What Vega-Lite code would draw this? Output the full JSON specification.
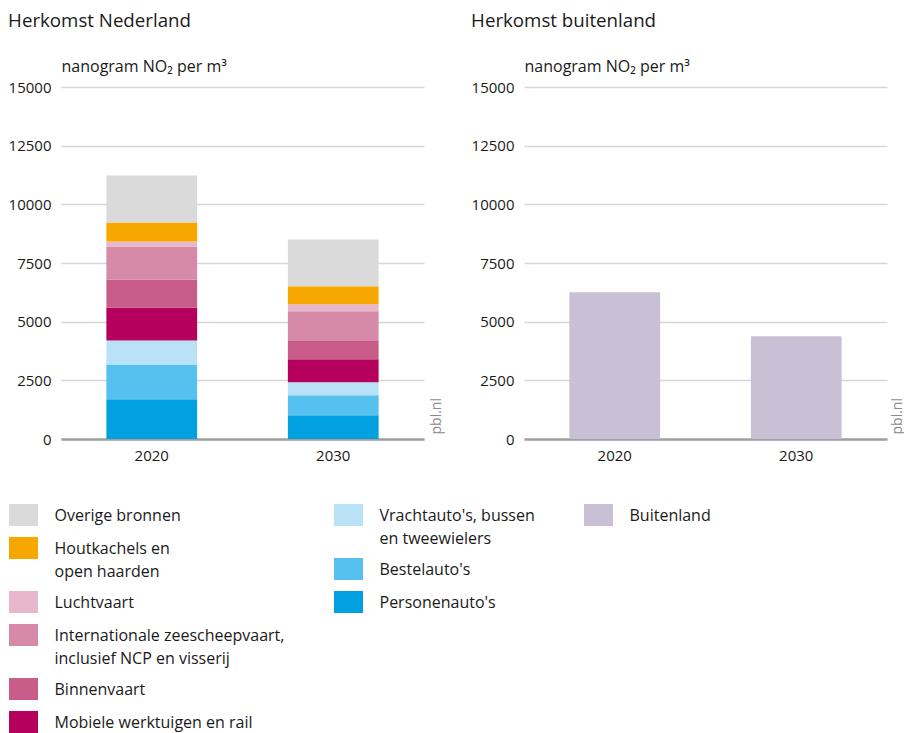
{
  "$schema": "https://vega.github.io/schema/vega-lite/v6.json",
  "padding": {"left": 8, "top": 12, "right": 0, "bottom": 0},
  "background": "white",
  "config": {
    "font": "Open Sans",
    "view": {"stroke": null},
    "title": {"fontSize": 18.7, "fontWeight": "normal", "anchor": "start", "frame": "bounds", "color": "#1a1a1a", "offset": 27},
    "axisY": {"grid": true, "gridColor": "#d6d6d6", "gridWidth": 1.5, "domain": false, "ticks": false, "labelFontSize": 15, "labelPadding": 10, "labelColor": "#1a1a1a"},
    "axisX": {"domainColor": "#9f9f9f", "domainWidth": 2.3, "ticks": false, "labelFontSize": 15, "labelPadding": 9, "labelAngle": 0, "labelColor": "#1a1a1a", "title": null, "grid": false},
    "legend": {"labelFontSize": 16, "labelColor": "#1a1a1a", "symbolType": "M-1.318,-1H1.318V1H-1.318Z", "symbolSize": 484, "symbolOffset": 3.5, "symbolStrokeWidth": 0, "symbolOpacity": 1, "orient": "none", "padding": 0, "rowPadding": 11, "labelOffset": 20, "title": null, "labelLimit": 400}
  },
  "datasets": {
    "nl": [
      {"jaar": "2020", "bron": "Personenauto's", "waarde": 1690},
      {"jaar": "2020", "bron": "Bestelauto's", "waarde": 1490},
      {"jaar": "2020", "bron": "Vrachtauto's, bussen en tweewielers", "waarde": 1020},
      {"jaar": "2020", "bron": "Mobiele werktuigen en rail", "waarde": 1405},
      {"jaar": "2020", "bron": "Binnenvaart", "waarde": 1195},
      {"jaar": "2020", "bron": "Internationale zeescheepvaart, inclusief NCP en visserij", "waarde": 1405},
      {"jaar": "2020", "bron": "Luchtvaart", "waarde": 215},
      {"jaar": "2020", "bron": "Houtkachels en open haarden", "waarde": 810},
      {"jaar": "2020", "bron": "Overige bronnen", "waarde": 2000},
      {"jaar": "2030", "bron": "Personenauto's", "waarde": 1010},
      {"jaar": "2030", "bron": "Bestelauto's", "waarde": 850},
      {"jaar": "2030", "bron": "Vrachtauto's, bussen en tweewielers", "waarde": 555},
      {"jaar": "2030", "bron": "Mobiele werktuigen en rail", "waarde": 980},
      {"jaar": "2030", "bron": "Binnenvaart", "waarde": 810},
      {"jaar": "2030", "bron": "Internationale zeescheepvaart, inclusief NCP en visserij", "waarde": 1235},
      {"jaar": "2030", "bron": "Luchtvaart", "waarde": 300},
      {"jaar": "2030", "bron": "Houtkachels en open haarden", "waarde": 765},
      {"jaar": "2030", "bron": "Overige bronnen", "waarde": 2000}
    ],
    "bl": [
      {"jaar": "2020", "bron": "Buitenland", "waarde": 6250},
      {"jaar": "2030", "bron": "Buitenland", "waarde": 4375}
    ]
  },
  "hconcat": [
    {
      "title": "Herkomst Nederland",
      "width": 363,
      "height": 352,
      "data": {"name": "nl"},
      "transform": [
        {"calculate": "indexof([\"Personenauto's\", \"Bestelauto's\", \"Vrachtauto's, bussen en tweewielers\", \"Mobiele werktuigen en rail\", \"Binnenvaart\", \"Internationale zeescheepvaart, inclusief NCP en visserij\", \"Luchtvaart\", \"Houtkachels en open haarden\", \"Overige bronnen\"], datum.bron)", "as": "volgorde"},
        {"stack": "waarde", "groupby": ["jaar"], "sort": [{"field": "volgorde", "order": "ascending"}], "as": ["v0", "v1"]}
      ],
      "encoding": {
        "x": {"field": "jaar", "type": "nominal", "scale": {"paddingInner": 0.5, "paddingOuter": 0.25}}
      },
      "layer": [
        {
          "transform": [{"filter": {"field": "bron", "oneOf": ["Personenauto's", "Bestelauto's", "Vrachtauto's, bussen en tweewielers"]}}],
          "mark": {"type": "bar"},
          "encoding": {
            "y": {"field": "v1", "type": "quantitative", "scale": {"domain": [0, 15000], "nice": false}, "axis": {"values": [0, 2500, 5000, 7500, 10000, 12500, 15000], "format": "d", "title": "nanogram NO₂ per m³", "titleAngle": 0, "titleAlign": "left", "titleX": 0, "titleY": -16, "titleBaseline": "alphabetic", "titleFontSize": 16, "titleFontWeight": "normal", "titleColor": "#1a1a1a"}},
            "y2": {"field": "v0"},
            "color": {"field": "bron", "type": "nominal", "scale": {"domain": ["Vrachtauto's, bussen en tweewielers", "Bestelauto's", "Personenauto's"], "range": ["#b9e2f7", "#56c1ee", "#00a0e1"]}, "legend": {"legendX": 273, "legendY": 417, "labelExpr": "datum.label == \"Vrachtauto's, bussen en tweewielers\" ? [\"Vrachtauto's, bussen\", \"en tweewielers\"] : datum.label", "labelBaseline": "top", "encode": {"labels": {"update": {"lineHeight": {"value": 23}, "dy": {"value": -7}}}}}}
          }
        },
        {
          "transform": [{"filter": {"field": "bron", "oneOf": ["Mobiele werktuigen en rail", "Binnenvaart", "Internationale zeescheepvaart, inclusief NCP en visserij", "Luchtvaart", "Houtkachels en open haarden", "Overige bronnen"]}}],
          "mark": {"type": "bar"},
          "encoding": {
            "y": {"field": "v1", "type": "quantitative", "scale": {"domain": [0, 15000], "nice": false}, "axis": {"orient": "right", "grid": false, "labels": false, "title": "pbl.nl", "titleAngle": 270, "titleX": 12, "titleY": 347, "titleAlign": "left", "titleBaseline": "middle", "titleFontSize": 14, "titleFontWeight": "normal", "titleColor": "#8c8c8c"}},
            "y2": {"field": "v0"},
            "fill": {"field": "bron", "type": "nominal", "scale": {"domain": ["Overige bronnen", "Houtkachels en open haarden", "Luchtvaart", "Internationale zeescheepvaart, inclusief NCP en visserij", "Binnenvaart", "Mobiele werktuigen en rail"], "range": ["#d9dad9", "#f7a800", "#e7b8cc", "#d68aa8", "#c85d8a", "#b5005e"]}, "legend": {"legendX": -52, "legendY": 417, "labelExpr": "datum.label == 'Houtkachels en open haarden' ? ['Houtkachels en', 'open haarden'] : datum.label == 'Internationale zeescheepvaart, inclusief NCP en visserij' ? ['Internationale zeescheepvaart,', 'inclusief NCP en visserij'] : datum.label", "labelBaseline": "top", "encode": {"labels": {"update": {"lineHeight": {"value": 23}, "dy": {"value": -7}}}}}}
          }
        }
      ],
      "resolve": {"axis": {"y": "independent"}}
    },
    {
      "title": "Herkomst buitenland",
      "width": 363,
      "height": 352,
      "data": {"name": "bl"},
      "encoding": {
        "x": {"field": "jaar", "type": "nominal", "scale": {"paddingInner": 0.5, "paddingOuter": 0.25}}
      },
      "layer": [
        {
          "mark": {"type": "bar"},
          "encoding": {
            "y": {"field": "waarde", "type": "quantitative", "scale": {"domain": [0, 15000], "nice": false}, "axis": {"values": [0, 2500, 5000, 7500, 10000, 12500, 15000], "format": "d", "title": "nanogram NO₂ per m³", "titleAngle": 0, "titleAlign": "left", "titleX": 0, "titleY": -16, "titleBaseline": "alphabetic", "titleFontSize": 16, "titleFontWeight": "normal", "titleColor": "#1a1a1a"}},
            "color": {"field": "bron", "type": "nominal", "scale": {"domain": ["Buitenland"], "range": ["#c9c0d6"]}, "legend": {"legendX": 60, "legendY": 417, "labelBaseline": "top", "encode": {"labels": {"update": {"dy": {"value": -7}}}}}}
          }
        },
        {
          "mark": {"type": "rule", "opacity": 0},
          "encoding": {
            "y": {"field": "waarde", "type": "quantitative", "scale": {"domain": [0, 15000], "nice": false}, "axis": {"orient": "right", "grid": false, "labels": false, "title": "pbl.nl", "titleAngle": 270, "titleX": 10, "titleY": 347, "titleAlign": "left", "titleBaseline": "middle", "titleFontSize": 14, "titleFontWeight": "normal", "titleColor": "#8c8c8c"}}
          }
        }
      ],
      "resolve": {"axis": {"y": "independent"}}
    }
  ],
  "bounds": "flush",
  "spacing": 100,
  "resolve": {"scale": {"color": "independent", "fill": "independent", "y": "independent"}, "legend": {"color": "independent", "fill": "independent"}}
}
